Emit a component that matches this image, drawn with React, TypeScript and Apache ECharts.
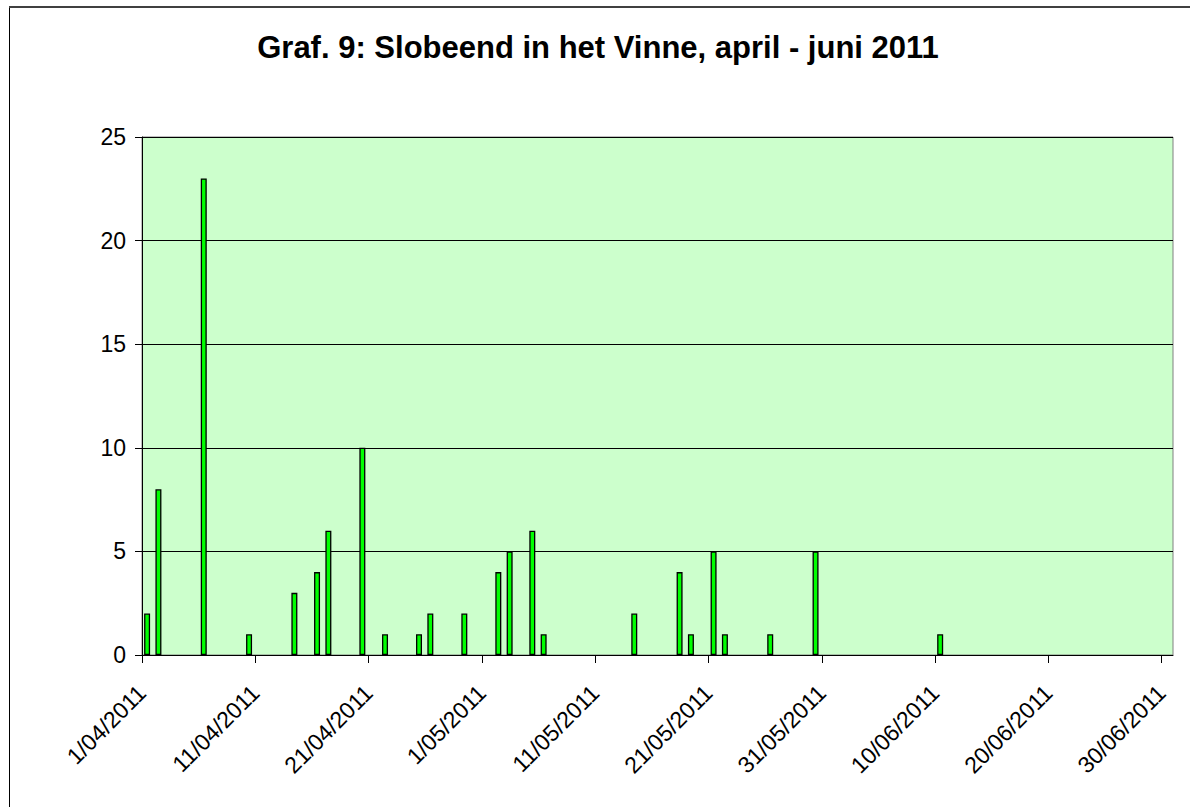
import React, { useEffect, useRef } from "react";
import * as echarts from "echarts";

const TITLE = "Graf. 9: Slobeend in het Vinne, april - juni 2011";
const AXIS_START = "1/04/2011";
const AXIS_DAYS = 91;
const TICK_STEP_DAYS = 10;
const Y_TICKS = [0, 5, 10, 15, 20, 25];

const obsDates = [
  "1/04/2011", "2/04/2011", "6/04/2011", "10/04/2011", "14/04/2011", "16/04/2011",
  "17/04/2011", "20/04/2011", "22/04/2011", "25/04/2011", "26/04/2011", "29/04/2011",
  "2/05/2011", "3/05/2011", "5/05/2011", "6/05/2011", "14/05/2011", "18/05/2011",
  "19/05/2011", "21/05/2011", "22/05/2011", "26/05/2011", "30/05/2011", "10/06/2011",
];
const obsCounts = [
  2, 8, 23, 1, 3, 4,
  6, 10, 1, 1, 2, 2,
  4, 5, 6, 1, 2, 4,
  1, 5, 1, 1, 5, 1,
];

function parseDate(s: string) {
  const [d, m, y] = s.split("/").map(Number);
  return Date.UTC(y, m - 1, d);
}
const START = parseDate(AXIS_START);
const dayIndex = (s: string) => Math.round((parseDate(s) - START) / 86400000);
const fmtDay = (idx: number) => {
  const dt = new Date(START + idx * 86400000);
  const dd = dt.getUTCDate();
  const mm = String(dt.getUTCMonth() + 1).padStart(2, "0");
  return `${dd}/${mm}/${dt.getUTCFullYear()}`;
};
const tickValues: number[] = [];
for (let v = 0; v < AXIS_DAYS; v += TICK_STEP_DAYS) tickValues.push(v);

const SLOT_CENTER = 0.45;

export default function App() {
  const ref = useRef<HTMLDivElement>(null);
  useEffect(() => {
    document.body.style.margin = "0";
    const chart = echarts.init(ref.current!, null, { renderer: "svg" });
    const font = "'Liberation Sans', Arial, sans-serif";
    chart.setOption({
      animation: false,
      backgroundColor: "#ffffff",
      graphic: [
        { type: "line", shape: { x1: 9.5, y1: 7, x2: 9.5, y2: 900 }, style: { stroke: "#000", lineWidth: 1 } },
        { type: "line", shape: { x1: 9, y1: 7, x2: 1300, y2: 7 }, style: { stroke: "#404040", lineWidth: 2 } },
        {
          type: "text",
          x: 598,
          y: 47,
          style: {
            text: TITLE,
            fontFamily: font,
            fontWeight: "bold",
            fontSize: 31,
            fill: "#000",
            textAlign: "center",
            textVerticalAlign: "middle",
          },
        },
      ],
      grid: {
        left: 142,
        top: 137,
        right: 17,
        bottom: 152,
        show: true,
        backgroundColor: "#CCFFCC",
        borderColor: "#808080",
        borderWidth: 1,
      },
      xAxis: {
        type: "value",
        min: 0,
        max: AXIS_DAYS,
        interval: TICK_STEP_DAYS,
        axisLine: { show: true, lineStyle: { color: "#000", width: 1 } },
        axisTick: { show: true, customValues: tickValues, length: 8, lineStyle: { color: "#000" } },
        splitLine: { show: false },
        axisLabel: {
          customValues: tickValues,
          rotate: 45,
          margin: 34,
          fontSize: 23,
          fontFamily: font,
          color: "#000",
          formatter: (v: number) => fmtDay(v),
        },
      },
      yAxis: {
        type: "value",
        min: Y_TICKS[0],
        max: Y_TICKS[Y_TICKS.length - 1],
        interval: Y_TICKS[1] - Y_TICKS[0],
        axisLine: { show: true, lineStyle: { color: "#000", width: 1 } },
        axisTick: { show: true, length: 7, lineStyle: { color: "#000" } },
        splitLine: { show: true, lineStyle: { color: "#000", width: 1 } },
        axisLabel: { margin: 16, fontSize: 23, fontFamily: font, color: "#000" },
      },
      series: [
        {
          type: "bar",
          barWidth: 6,
          data: obsDates.map((d, i) => [dayIndex(d) + SLOT_CENTER, obsCounts[i]]),
          itemStyle: { color: "#00FF00", borderColor: "#000", borderWidth: 1.3 },
        },
      ],
    });
    return () => chart.dispose();
  }, []);
  return <div ref={ref} style={{ width: 1190, height: 807 }} />;
}
